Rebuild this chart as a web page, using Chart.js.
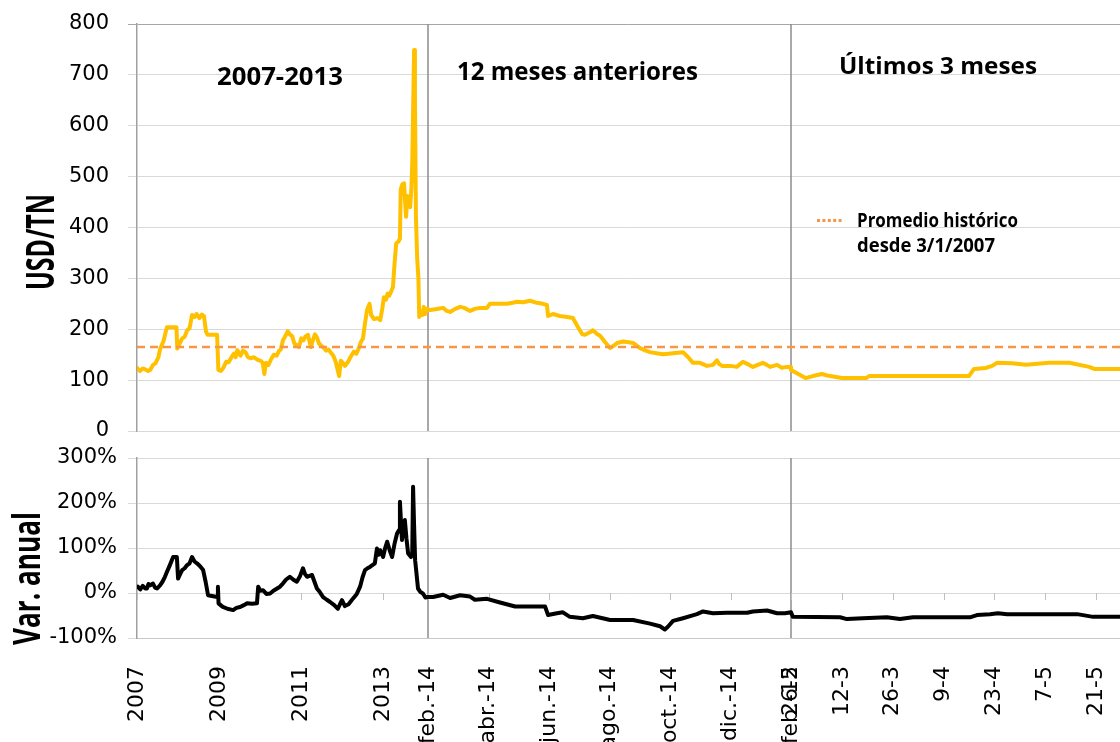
<!DOCTYPE html>
<html>
<head>
<meta charset="utf-8">
<script src="https://cdn.jsdelivr.net/npm/chart.js@4.4.1/dist/chart.umd.min.js"></script>
<style>
html,body{margin:0;padding:0;background:#fff;width:1120px;height:742px;overflow:hidden;}
#top{position:absolute;left:0;top:0;}
#bot{position:absolute;left:0;top:430px;}
</style>
</head>
<body>
<canvas id="top" width="1120" height="445"></canvas>
<canvas id="bot" width="1120" height="312"></canvas>
<script>
// ---------------- DATA ----------------
// Precio USD/TN, tramo 2007-2013 (x = año decimal)
const p1Year = [2007.00,2007.07,2007.14,2007.20,2007.27,2007.32,2007.39,2007.45,2007.52,2007.56,2007.65,2007.70,2007.73,2007.85,2007.96,2007.98,2008.04,2008.10,2008.16,2008.22,2008.28,2008.34,2008.40,2008.45,2008.52,2008.58,2008.63,2008.68,2008.72,2008.95,2008.98,2009.04,2009.10,2009.17,2009.23,2009.30,2009.36,2009.40,2009.44,2009.52,2009.58,2009.64,2009.70,2009.76,2009.85,2009.93,2010.01,2010.06,2010.10,2010.14,2010.20,2010.27,2010.33,2010.40,2010.46,2010.50,2010.55,2010.60,2010.67,2010.72,2010.78,2010.83,2010.90,2010.94,2011.00,2011.05,2011.10,2011.16,2011.20,2011.23,2011.28,2011.33,2011.38,2011.43,2011.48,2011.55,2011.60,2011.66,2011.72,2011.78,2011.84,2011.89,2011.92,2011.96,2012.01,2012.06,2012.13,2012.20,2012.28,2012.34,2012.40,2012.45,2012.50,2012.55,2012.60,2012.66,2012.70,2012.77,2012.85,2012.92,2012.97,2013.01,2013.06,2013.10,2013.14,2013.19,2013.23,2013.27,2013.31,2013.36,2013.40,2013.42,2013.46,2013.50,2013.53,2013.55,2013.58,2013.61,2013.65,2013.68,2013.70,2013.72,2013.745,2013.765,2013.79,2013.82,2013.85,2013.87,2013.91,2013.95,2013.98,2014.02,2014.06,2014.083];
const p1Val  = [124,118,123,121,118,120,130,133,145,160,178,195,204,204,204,162,172,182,185,198,202,228,224,230,222,229,226,195,189,189,120,118,124,136,135,145,152,145,159,148,158,155,145,143,145,140,138,134,112,134,130,142,150,148,158,160,178,185,196,190,186,172,168,165,182,178,186,189,176,165,178,190,184,172,168,163,158,160,154,148,135,118,108,138,134,128,135,146,156,152,163,175,182,212,238,250,228,220,222,218,240,263,258,270,266,275,283,330,369,372,378,475,485,487,445,421,462,445,440,480,526,624,749,660,420,340,300,224,235,228,244,230,240,238];
// Precio, 12 meses anteriores (x = meses desde feb.-14)
const p2Month = [0.07,0.30,0.50,0.62,0.73,0.90,1.06,1.20,1.39,1.55,1.72,1.95,2.05,2.30,2.61,2.80,2.94,3.15,3.37,3.60,3.80,3.93,3.97,4.13,4.36,4.60,4.79,4.96,5.10,5.19,5.35,5.45,5.60,5.69,5.85,6.02,6.15,6.25,6.45,6.58,6.78,7.01,7.20,7.34,7.55,7.77,7.95,8.10,8.43,8.60,8.76,8.99,9.22,9.42,9.55,9.62,9.72,10.00,10.21,10.41,10.55,10.74,10.90,11.07,11.20,11.31,11.54,11.70,11.85,12.00];
const p2Val   = [238,240,242,236,234,240,244,242,236,240,242,242,250,250,250,252,254,253,256,252,250,248,226,230,226,224,222,204,190,189,194,198,190,187,175,163,168,173,176,175,173,163,158,155,153,151,152,153,155,145,134,134,128,130,139,132,128,128,126,136,132,126,130,134,130,126,130,124,126,126];
// Precio, últimos 3 meses (x = días desde 26-2-2015)
const p3Day = [0,2,4,6,8.5,10,12.4,14,20.7,21.5,49,50.4,53.7,55.4,56.7,60.9,64.7,71.1,76.6,82.1,83.5,90.6];
const p3Val = [120,112,104,108,112,109,106,104,104,108,108,122,124,128,134,133,130,134,134,126,122,122];

// Var. anual (%), tramo 2007-2013
const v1Year = [2007.02,2007.08,2007.14,2007.20,2007.24,2007.28,2007.32,2007.39,2007.44,2007.49,2007.56,2007.62,2007.68,2007.73,2007.80,2007.88,2007.97,2008.00,2008.05,2008.10,2008.16,2008.22,2008.28,2008.34,2008.40,2008.46,2008.53,2008.61,2008.67,2008.73,2008.95,2008.97,2008.985,2009.05,2009.09,2009.20,2009.34,2009.42,2009.51,2009.60,2009.68,2009.80,2009.92,2009.95,2010.00,2010.07,2010.15,2010.24,2010.32,2010.41,2010.48,2010.55,2010.63,2010.72,2010.80,2010.89,2010.97,2011.04,2011.09,2011.14,2011.20,2011.26,2011.32,2011.38,2011.45,2011.53,2011.62,2011.70,2011.80,2011.89,2011.94,2011.99,2012.06,2012.15,2012.26,2012.35,2012.43,2012.49,2012.55,2012.61,2012.67,2012.73,2012.79,2012.84,2012.88,2012.92,2012.99,2013.04,2013.09,2013.15,2013.21,2013.27,2013.33,2013.38,2013.40,2013.43,2013.45,2013.52,2013.56,2013.60,2013.67,2013.70,2013.72,2013.745,2013.77,2013.84,2013.90,2013.96,2014.02,2014.083];
const v1Val  = [14,8,16,10,10,20,17,21,12,10,17,25,36,47,62,80,80,32,42,51,55,62,66,80,70,66,60,51,25,-5,-9,14,-23,-28,-31,-35,-38,-33,-31,-27,-23,-24,-23,14,5,6,-2,-1,5,10,14,21,30,36,30,25,38,55,42,36,38,40,25,10,2,-9,-15,-20,-27,-35,-25,-16,-29,-25,-12,-2,14,35,51,55,58,62,66,99,85,95,80,100,114,95,80,110,132,140,203,150,118,162,120,88,80,90,236,150,73,10,2,-1,-10,-9];
// Var. anual, 12 meses anteriores
const v2Month = [0.17,0.50,0.73,1.06,1.39,1.55,1.95,2.38,2.88,3.87,3.97,4.26,4.46,4.69,5.12,5.45,6.02,6.78,7.34,7.67,7.83,7.93,8.10,8.43,8.89,9.09,9.42,9.88,10.55,10.74,11.21,11.54,11.80,12.00];
const v2Val   = [-9,-4,-11,-5,-8,-15,-13,-21,-30,-30,-49,-45,-43,-53,-56,-51,-60,-60,-68,-74,-81,-75,-62,-56,-47,-41,-45,-44,-44,-41,-39,-45,-45,-43];
// Var. anual, últimos 3 meses
const v3Day = [0.5,13.5,15.4,19.8,26.4,30.0,33.6,49.3,51.2,54.8,57.0,59.5,78.8,83.2,90.6];
const v3Val = [-53,-54,-58,-56,-54,-58,-54,-54,-49,-47,-45,-47,-47,-53,-53];

// Promedio histórico desde 3/1/2007 (USD/TN)
const promedioHistorico = 165;

// Tick labels del eje de categorías
const tickS1Years  = [2007, 2009, 2011, 2013];
const tickS1Labels = ['2007','2009','2011','2013'];
const tickS2Months = [0, 2, 4, 6, 8, 10, 12];
const tickS2Labels = ['feb.-14','abr.-14','jun.-14','ago.-14','oct.-14','dic.-14','feb.-15'];
const tickS3Days   = [0, 14, 28, 42, 56, 70, 84];
const tickS3Labels = ['26-2','12-3','26-3','9-4','23-4','7-5','21-5'];

const sectionTitles = ['2007-2013', '12 meses anteriores', 'Últimos 3 meses'];

// ---------------- LAYOUT (piecewise x axis) ----------------
const SEC_W = [291, 363, 329];
const SEC_RANGE = [[2007, 2014 + 1/12], [0, 12], [0, 90.6]];
function toX(sec, v) {
  let off = 0;
  for (let i = 0; i < sec; i++) off += SEC_W[i];
  const [a, b] = SEC_RANGE[sec];
  return off + (v - a) / (b - a) * SEC_W[sec];
}
const X_MAX = SEC_W[0] + SEC_W[1] + SEC_W[2];
const series = (xs, ys, sec) => xs.map((v, i) => ({x: toX(sec, v), y: ys[i]}));
const priceData = [...series(p1Year, p1Val, 0), ...series(p2Month, p2Val, 1), ...series(p3Day, p3Val, 2)];
const varData   = [...series(v1Year, v1Val, 0), ...series(v2Month, v2Val, 1), ...series(v3Day, v3Val, 2)];
const tickDefs = [
  ...tickS1Years.map((v, i) => ({x: toX(0, v), label: tickS1Labels[i]})),
  ...tickS2Months.map((v, i) => ({x: toX(1, v), label: tickS2Labels[i]})),
  ...tickS3Days.map((v, i) => ({x: toX(2, v), label: tickS3Labels[i]}))
];
const boundaries = [toX(1, 0), toX(2, 0)];

// ---------------- HELPERS ----------------
function fitText(ctx, text, x, y, width, cap, rot) {
  const size = cap / 0.714;
  ctx.save();
  ctx.font = 'bold ' + size + 'px "Open Sans"';
  const w = ctx.measureText(text).width;
  ctx.translate(x, y);
  if (rot) ctx.rotate(rot);
  ctx.scale(width / w, 1);
  ctx.textAlign = 'left';
  ctx.textBaseline = 'alphabetic';
  ctx.fillStyle = '#000';
  ctx.fillText(text, 0, 0);
  ctx.restore();
}
function drawSeparators(chart) {
  const {ctx, chartArea: a, scales: {x}} = chart;
  ctx.save();
  ctx.strokeStyle = '#8C8C8C';
  ctx.lineWidth = 1.5;
  boundaries.forEach(v => {
    const px = Math.round(x.getPixelForValue(v));
    ctx.beginPath(); ctx.moveTo(px, a.top); ctx.lineTo(px, a.bottom); ctx.stroke();
  });
  ctx.restore();
}

const topPlugin = {
  id: 'topDeco',
  beforeDatasetsDraw(chart) { drawSeparators(chart); },
  afterDraw(chart) {
    const ctx = chart.ctx;
    fitText(ctx, sectionTitles[0], 217, 85, 126, 18);
    fitText(ctx, sectionTitles[1], 457, 80, 241, 17.5);
    fitText(ctx, sectionTitles[2], 839, 73.5, 198, 16);
    // legend
    ctx.save();
    ctx.strokeStyle = '#F79646'; ctx.lineWidth = 3; ctx.setLineDash([3, 2.4]);
    ctx.beginPath(); ctx.moveTo(817, 220.5); ctx.lineTo(844, 220.5); ctx.stroke();
    ctx.restore();
    fitText(ctx, 'Promedio histórico', 857, 227, 161, 14);
    fitText(ctx, 'desde 3/1/2007', 857, 252, 138, 14);
    // y title
    fitText(ctx, 'USD/TN', 54, 290, 96, 28, -Math.PI / 2);
  }
};
const botPlugin = {
  id: 'botDeco',
  beforeDatasetsDraw(chart) {
    drawSeparators(chart);
    const {ctx, scales: {x, y}} = chart;
    const y0 = Math.round(y.getPixelForValue(0));
    ctx.save();
    ctx.strokeStyle = '#BFBFBF'; ctx.lineWidth = 1;
    tickDefs.forEach(t => {
      const px = Math.round(x.getPixelForValue(t.x)) + 0.5;
      ctx.beginPath(); ctx.moveTo(px, y0); ctx.lineTo(px, y0 + 7); ctx.stroke();
    });
    ctx.restore();
  },
  afterDraw(chart) {
    fitText(chart.ctx, 'Var. anual', 40, 645 - 430, 133, 27, -Math.PI / 2);
  }
};

const tickFont = {family: 'DejaVu Sans', size: 21};
const fixY = s => { s.width = 137; s.paddingTop = 0; s.paddingBottom = 0; };

new Chart(document.getElementById('top'), {
  type: 'line',
  data: {
    datasets: [
      {label: 'Promedio histórico desde 3/1/2007',
       data: [{x: 0, y: promedioHistorico}, {x: X_MAX, y: promedioHistorico}],
       borderColor: '#F79646', borderWidth: 2.5, borderDash: [8, 5], pointRadius: 0},
      {label: 'USD/TN', data: priceData, borderColor: '#FFC000', borderWidth: 4,
       pointRadius: 0, tension: 0, borderJoinStyle: 'round', borderCapStyle: 'round'}
    ]
  },
  options: {
    responsive: false, animation: false, events: [],
    layout: {padding: {top: 24, bottom: 14, left: 0, right: 0}},
    plugins: {legend: {display: false}, tooltip: {enabled: false}},
    scales: {
      x: {type: 'linear', bounds: 'data', min: 0, max: X_MAX, display: false},
      y: {min: 0, max: 800,
          ticks: {stepSize: 100, font: tickFont, color: '#000', padding: 19},
          grid: {color: c => (c.tick && c.tick.value === 800) ? '#A6A6A6' : '#D9D9D9', tickLength: 9, lineWidth: 1},
          border: {color: '#A0A0A0', width: 1.5},
          afterFit: fixY}
    }
  },
  plugins: [topPlugin]
});

new Chart(document.getElementById('bot'), {
  type: 'line',
  data: {
    datasets: [
      {label: 'Var. anual', data: varData, borderColor: '#000', borderWidth: 4,
       pointRadius: 0, tension: 0, borderJoinStyle: 'round', borderCapStyle: 'round'}
    ]
  },
  options: {
    responsive: false, animation: false, events: [],
    layout: {padding: {top: 28, bottom: 0, left: 0, right: 0}},
    plugins: {legend: {display: false}, tooltip: {enabled: false}},
    scales: {
      x: {type: 'linear', bounds: 'data', min: 0, max: X_MAX, position: 'bottom',
          afterBuildTicks: s => { s.ticks = tickDefs.map(t => ({value: t.x})); },
          ticks: {autoSkip: false, minRotation: 90, maxRotation: 90, padding: 20,
                  font: {family: 'DejaVu Sans', size: 22}, color: '#000',
                  callback: (v, i) => tickDefs[i].label},
          grid: {display: false},
          border: {display: true, color: '#C8C8C8', width: 1},
          afterFit: s => { s.height = 104; s.paddingLeft = 0; s.paddingRight = 0; }},
      y: {min: -100, max: 300,
          ticks: {stepSize: 100, font: tickFont, color: '#000', padding: 11, callback: v => v + '%'},
          grid: {color: '#D9D9D9', tickLength: 9, lineWidth: 1},
          border: {color: '#A0A0A0', width: 1.5},
          afterFit: fixY}
    }
  },
  plugins: [botPlugin]
});
</script>
</body>
</html>
